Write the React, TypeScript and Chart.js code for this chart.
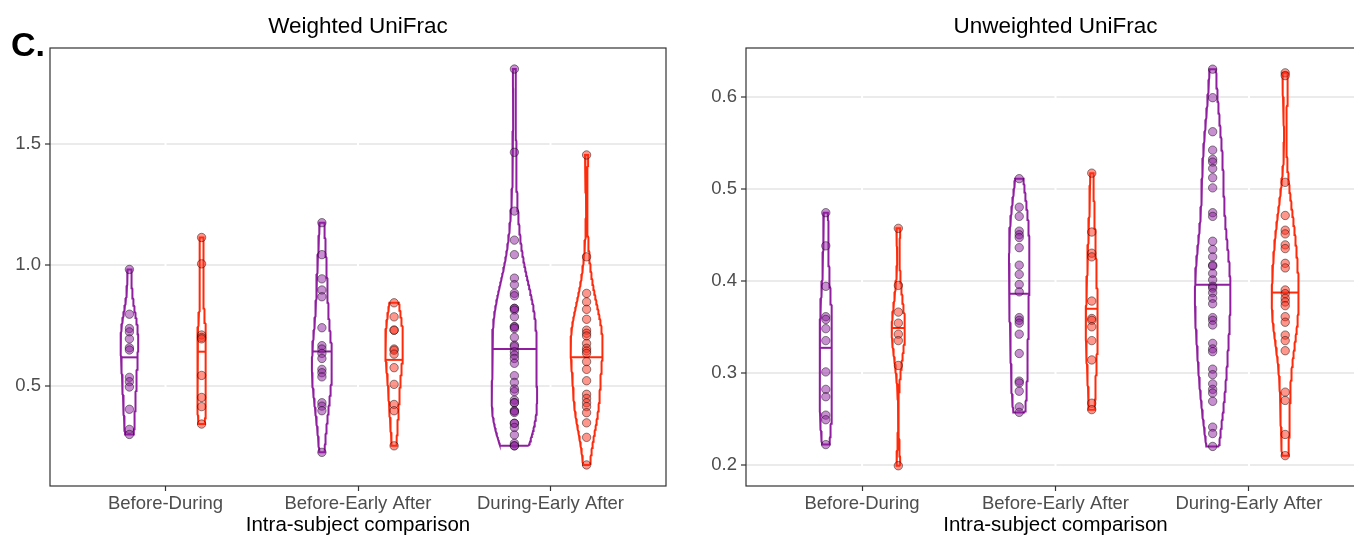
import React, { useEffect, useRef } from "react";
import { Chart, registerables } from "chart.js";

Chart.register(...registerables);

// ---------------- data ----------------
const categories = ["Before-During", "Before-Early After", "During-Early After"];
const panelTitles = ["Weighted UniFrac", "Unweighted UniFrac"];
const xAxisTitle = "Intra-subject comparison";
const panelLabel = "C.";
const weightedTicks = [0.5, 1.0, 1.5];
const unweightedTicks = [0.2, 0.3, 0.4, 0.5, 0.6];

// purple group (left violin of each pair), per category
const weightedPurple = [
  [0.982, 0.797, 0.738, 0.724, 0.695, 0.658, 0.649, 0.536, 0.518, 0.496, 0.404, 0.321, 0.3],
  [1.175, 1.043, 0.943, 0.897, 0.869, 0.741, 0.667, 0.653, 0.635, 0.614, 0.569, 0.555, 0.538, 0.431, 0.417, 0.398, 0.226],
  [1.81, 1.466, 1.223, 1.103, 1.043, 0.946, 0.919, 0.883, 0.873, 0.821, 0.821, 0.814, 0.786, 0.745, 0.745, 0.738, 0.701, 0.669,
    0.663, 0.642, 0.628, 0.614, 0.594, 0.543, 0.515, 0.488, 0.477, 0.442, 0.431, 0.431, 0.397, 0.397, 0.391, 0.346, 0.346,
    0.329, 0.298, 0.263, 0.253, 0.253],
];
// red group (right violin of each pair), per category
const weightedRed = [
  [1.114, 1.005, 0.711, 0.701, 0.695, 0.544, 0.453, 0.415, 0.343],
  [0.844, 0.786, 0.731, 0.731, 0.653, 0.648, 0.632, 0.576, 0.507, 0.424, 0.398, 0.253],
  [1.455, 1.034, 0.883, 0.848, 0.817, 0.776, 0.731, 0.718, 0.707, 0.676, 0.656, 0.645, 0.635, 0.601, 0.569, 0.522, 0.466,
    0.449, 0.431, 0.415, 0.39, 0.348, 0.288, 0.174],
];
const unweightedPurple = [
  [0.474, 0.438, 0.394, 0.361, 0.358, 0.348, 0.335, 0.301, 0.282, 0.274, 0.254, 0.249, 0.222],
  [0.511, 0.48, 0.47, 0.454, 0.45, 0.447, 0.436, 0.417, 0.407, 0.396, 0.388, 0.36, 0.357, 0.354, 0.342, 0.321, 0.291, 0.289,
    0.28, 0.263, 0.257],
  [0.63, 0.599, 0.562, 0.542, 0.532, 0.529, 0.522, 0.512, 0.501, 0.474, 0.47, 0.443, 0.434, 0.426, 0.417, 0.416, 0.408,
    0.401, 0.394, 0.392, 0.387, 0.381, 0.375, 0.36, 0.357, 0.352, 0.332, 0.326, 0.323, 0.304, 0.298, 0.288, 0.282, 0.278,
    0.269, 0.241, 0.234, 0.22],
];
const unweightedRed = [
  [0.457, 0.395, 0.366, 0.354, 0.342, 0.335, 0.308, 0.199],
  [0.517, 0.453, 0.43, 0.426, 0.378, 0.359, 0.357, 0.35, 0.335, 0.314, 0.267, 0.26],
  [0.626, 0.623, 0.507, 0.471, 0.455, 0.451, 0.439, 0.435, 0.419, 0.414, 0.39, 0.386, 0.381, 0.377, 0.373, 0.361, 0.355,
    0.341, 0.335, 0.324, 0.279, 0.27, 0.233, 0.21],
];

// ---------------- styles ----------------
const PURPLE = "#8F1F9F";
const PURPLE_FILL = "rgba(143,31,159,0.5)";
const RED = "#FF2A0A";
const RED_FILL = "rgba(255,45,25,0.5)";
const FONT = "'Liberation Sans', Arial, Helvetica, sans-serif";
const DODGE = 0.1875;
const COUNT_POWER = 1.25;

// ---------------- violin helpers (KDE like ggplot stat_ydensity) ----------------
function q7(s: number[], p: number) {
  const h = (s.length - 1) * p;
  const lo = Math.floor(h);
  const hi = Math.min(lo + 1, s.length - 1);
  return s[lo] + (h - lo) * (s[hi] - s[lo]);
}
function bwNrd0(s: number[]) {
  const n = s.length;
  const mean = s.reduce((a, b) => a + b, 0) / n;
  const sd = Math.sqrt(s.reduce((a, b) => a + (b - mean) * (b - mean), 0) / (n - 1));
  const iqr = q7(s, 0.75) - q7(s, 0.25);
  let lo = Math.min(sd, iqr / 1.34);
  if (!lo) lo = sd || Math.abs(s[0]) || 1;
  return 0.9 * lo * Math.pow(n, -0.2);
}
function density(values: number[]) {
  const s = [...values].sort((a, b) => a - b);
  const n = s.length;
  const bw = bwNrd0(s);
  const lo = s[0];
  const hi = s[n - 1];
  const N = 256;
  const ys: number[] = [];
  const ds: number[] = [];
  const k = 1 / (n * bw * Math.sqrt(2 * Math.PI));
  for (let i = 0; i < N; i++) {
    const y = lo + ((hi - lo) * i) / (N - 1);
    let d = 0;
    for (const v of s) {
      const z = (y - v) / bw;
      d += Math.exp(-0.5 * z * z);
    }
    ys.push(y);
    ds.push(d * k);
  }
  return { ys, ds, n };
}

type Panel = {
  purple: number[][];
  red: number[][];
  ticks: number[];
  yMin: number;
  yMax: number;
  halfMax: number;
  yWidth: number;
  padRight: number;
  title: string;
  showLabel: boolean;
  xMax: number;
};

function buildDatasets(p: Panel) {
  const groups: { vals: number[]; cx: number; line: string; fill: string }[] = [];
  categories.forEach((_, i) => {
    groups.push({ vals: p.purple[i], cx: i + 1 - DODGE, line: PURPLE, fill: PURPLE_FILL });
    groups.push({ vals: p.red[i], cx: i + 1 + DODGE, line: RED, fill: RED_FILL });
  });
  const dens = groups.map((g) => density(g.vals));
  const maxN = Math.max(...dens.map((d) => d.n));
  const wt = (d: { n: number }) => Math.pow(d.n / maxN, COUNT_POWER);
  let maxC = 0;
  dens.forEach((d) => d.ds.forEach((v) => (maxC = Math.max(maxC, v * wt(d)))));
  const datasets: any[] = [];
  groups.forEach((g, gi) => {
    const d = dens[gi];
    const hw = d.ds.map((v) => ((v * wt(d)) / maxC) * p.halfMax);
    const outline: { x: number; y: number }[] = [];
    for (let i = 0; i < d.ys.length; i++) outline.push({ x: g.cx + hw[i], y: d.ys[i] });
    for (let i = d.ys.length - 1; i >= 0; i--) outline.push({ x: g.cx - hw[i], y: d.ys[i] });
    outline.push({ x: g.cx + hw[0], y: d.ys[0] });
    datasets.push({
      type: "scatter",
      data: outline,
      showLine: true,
      borderColor: g.line,
      borderWidth: 2,
      pointRadius: 0,
      fill: false,
      tension: 0,
      order: 3,
    });
    // median from density cdf (draw_quantiles = 0.5)
    const total = d.ds.reduce((a, b) => a + b, 0);
    let cum = 0;
    let my = d.ys[0];
    let mw = hw[0];
    for (let i = 0; i < d.ds.length; i++) {
      const prev = cum;
      cum += d.ds[i] / total;
      if (cum >= 0.5) {
        if (i === 0) {
          my = d.ys[0];
          mw = hw[0];
        } else {
          const t = (0.5 - prev) / (cum - prev);
          my = d.ys[i - 1] + t * (d.ys[i] - d.ys[i - 1]);
          mw = hw[i - 1] + t * (hw[i] - hw[i - 1]);
        }
        break;
      }
    }
    datasets.push({
      type: "scatter",
      data: [
        { x: g.cx - mw, y: my },
        { x: g.cx + mw, y: my },
      ],
      showLine: true,
      borderColor: g.line,
      borderWidth: 2,
      pointRadius: 0,
      order: 2,
    });
    datasets.push({
      type: "scatter",
      data: g.vals.map((v) => ({ x: g.cx, y: v })),
      pointRadius: 4.2,
      pointBackgroundColor: g.fill,
      pointBorderColor: "rgba(0,0,0,0.45)",
      pointBorderWidth: 1,
      order: 1,
    });
  });
  return datasets;
}

function makeChart(canvas: HTMLCanvasElement, p: Panel) {
  const panelPlugin = {
    id: "panelDeco",
    beforeDatasetsDraw(chart: any) {
      const { ctx, chartArea } = chart;
      const xs = chart.scales.x;
      ctx.save();
      ctx.strokeStyle = "#FFFFFF";
      ctx.lineWidth = 2;
      [1, 2, 3].forEach((v) => {
        const x = xs.getPixelForValue(v);
        ctx.beginPath();
        ctx.moveTo(x, chartArea.top);
        ctx.lineTo(x, chartArea.bottom);
        ctx.stroke();
      });
      ctx.restore();
    },
    afterDraw(chart: any) {
      const { ctx, chartArea } = chart;
      ctx.save();
      ctx.strokeStyle = "#333333";
      ctx.lineWidth = 1.2;
      ctx.strokeRect(chartArea.left, chartArea.top, chartArea.right - chartArea.left, chartArea.bottom - chartArea.top);
      ctx.fillStyle = "#000000";
      ctx.textAlign = "center";
      ctx.textBaseline = "middle";
      ctx.font = `22.5px ${FONT}`;
      ctx.fillText(p.title, (chartArea.left + chartArea.right) / 2, 27);
      if (p.showLabel) {
        ctx.textAlign = "left";
        ctx.textBaseline = "alphabetic";
        ctx.font = `bold 34px ${FONT}`;
        ctx.fillText(panelLabel, 11, 56);
      }
      ctx.restore();
    },
  };

  return new Chart(canvas, {
    type: "scatter",
    data: { datasets: buildDatasets(p) },
    options: {
      animation: false,
      responsive: false,
      maintainAspectRatio: false,
      events: [],
      layout: { padding: { top: 48, right: p.padRight, left: 0, bottom: 0 } },
      plugins: { legend: { display: false }, tooltip: { enabled: false }, title: { display: false } },
      scales: {
        x: {
          type: "linear",
          min: 0.4,
          max: p.xMax,
          afterFit: (s: any) => {
            s.height = 54;
          },
          afterBuildTicks: (s: any) => {
            s.ticks = [1, 2, 3].map((v) => ({ value: v }));
          },
          ticks: {
            callback: (v: any) => categories[Math.round(Number(v)) - 1],
            font: { size: 18.5, family: FONT },
            color: "#4D4D4D",
            padding: 2,
            maxRotation: 0,
            autoSkip: false,
          },
          grid: { color: "rgba(0,0,0,0)", tickColor: "#333333", tickLength: 5, tickWidth: 1.2 },
          border: { display: false },
          title: {
            display: true,
            text: xAxisTitle,
            color: "#000000",
            font: { size: 20.5, family: FONT },
            padding: { top: 0, bottom: 2 },
          },
        },
        y: {
          type: "linear",
          min: p.yMin,
          max: p.yMax,
          afterFit: (s: any) => {
            s.width = p.yWidth;
          },
          afterBuildTicks: (s: any) => {
            s.ticks = p.ticks.map((v) => ({ value: v }));
          },
          ticks: {
            callback: (v: any) => Number(v).toFixed(1),
            font: { size: 18.5, family: FONT },
            color: "#4D4D4D",
            padding: 4,
          },
          grid: { color: "#EBEBEB", lineWidth: 2, tickColor: "#333333", tickLength: 5, tickWidth: 1.2 },
          border: { display: false },
        },
      },
    },
    plugins: [panelPlugin],
  } as any);
}

const leftPanel: Panel = {
  purple: weightedPurple,
  red: weightedRed,
  ticks: weightedTicks,
  yMin: 0.087,
  yMax: 1.897,
  halfMax: 0.118,
  yWidth: 50,
  padRight: 14,
  title: panelTitles[0],
  showLabel: true,
  xMax: 3.6,
};
const rightPanel: Panel = {
  purple: unweightedPurple,
  red: unweightedRed,
  ticks: unweightedTicks,
  yMin: 0.177,
  yMax: 0.653,
  halfMax: 0.092,
  yWidth: 66,
  padRight: 15,
  title: panelTitles[1],
  showLabel: false,
  xMax: 3.6,
};

export default function App() {
  const leftRef = useRef<HTMLCanvasElement>(null);
  const rightRef = useRef<HTMLCanvasElement>(null);
  useEffect(() => {
    Chart.defaults.font.family = FONT;
    const c1 = makeChart(leftRef.current!, leftPanel);
    const c2 = makeChart(rightRef.current!, rightPanel);
    return () => {
      c1.destroy();
      c2.destroy();
    };
  }, []);
  return (
    <div
      style={{
        position: "fixed",
        left: 0,
        top: 0,
        width: 1354,
        height: 540,
        overflow: "hidden",
        background: "#FFFFFF",
      }}
    >
      <canvas
        ref={leftRef}
        width={680}
        height={540}
        style={{ position: "absolute", left: 0, top: 0, width: 680, height: 540 }}
      />
      <canvas
        ref={rightRef}
        width={700}
        height={540}
        style={{ position: "absolute", left: 680, top: 0, width: 700, height: 540 }}
      />
    </div>
  );
}
